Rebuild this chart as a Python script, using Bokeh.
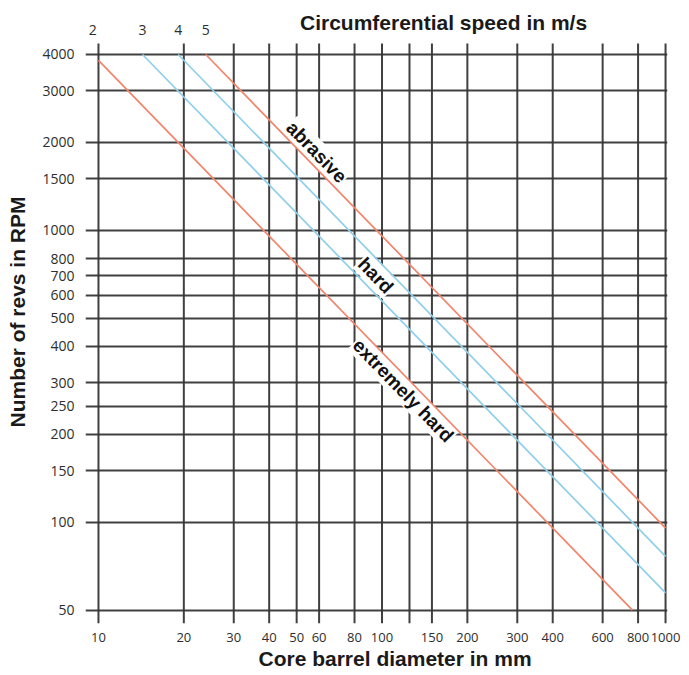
import math
from bokeh.plotting import figure
from bokeh.models import FixedTicker, Range1d, ColumnDataSource, Title
from bokeh.core.properties import value
from bokeh.embed import file_html
from bokeh.resources import INLINE

# ---------------- data ----------------
X_TICKS = [10, 20, 30, 40, 50, 60, 80, 100, 125, 150, 200, 300, 400, 600, 800, 1000]
X_LABELS = ["10", "20", "30", "40", "50", "60", "80", "100", "", "150", "200",
            "300", "400", "600", "800", "1000"]
Y_TICKS = [50, 100, 150, 200, 250, 300, 400, 500, 600, 700, 800, 1000,
           1500, 2000, 3000, 4000]
Y_LABELS = ["50", "100", "150", "200", "250", "300", "400", "500", "600", "700",
            "800", "1000", "1500", "2000", "3000", "4000"]

# circumferential speeds (m/s) and the diameter where each line meets the top
SPEED_LABELS = ["2", "3", "4", "5"]
SPEED_TOP_D = [9.55, 14.3, 19.1, 23.9]

# straight speed lines (diameter mm, RPM) start / end points
LINE_D_START = [10, 14.3, 19.1, 23.9]
LINE_RPM_START = [3820, 4000, 4000, 4000]
LINE_D_END = [764, 1000, 1000, 1000]
LINE_RPM_END = [50, 57.3, 76.4, 95.5]
LINE_KIND = ["red", "blue", "blue", "red"]

# rock-type annotations along the lines
ROCK_TEXT = ["abrasive", "hard", "extremely hard"]
ROCK_D = [55, 95, 127]
ROCK_RPM = [1740, 700, 301]
ROCK_BASELINE = ["bottom", "middle", "top"]

# ---------------- styling / layout ----------------
RED = "#f3846a"
BLUE = "#8fcfec"
GRID = "#363636"
TICK_FONT = "Open Sans"
BOLD_FONT = "Liberation Sans"
X_START, X_END = 9.0, 1016
Y_START, Y_END = 45.0, 6123
GRID_TOP = 4362          # vertical grid lines stop a little above 4000
SPEED_LABEL_Y = 4833     # height of the speed numbers above the grid
TOP_TITLE_X, TOP_TITLE_Y = 164.8, 5149

p = figure(
    title=None,
    x_axis_type="log", y_axis_type="log",
    x_range=Range1d(X_START, X_END), y_range=Range1d(Y_START, Y_END),
    frame_width=582, frame_height=623,
    min_border_left=85, min_border_right=18, min_border_top=0, min_border_bottom=51,
    toolbar_location=None, output_backend="svg",
)
p.outline_line_color = None
p.background_fill_color = "white"
p.border_fill_color = "white"

# horizontal grid (built in), vertical grid as segments
p.xgrid.visible = False
p.ygrid.ticker = FixedTicker(ticks=Y_TICKS)
p.ygrid.grid_line_color = GRID
p.ygrid.grid_line_width = 2
p.ygrid.grid_line_alpha = 0.95

vsrc = ColumnDataSource(dict(x=X_TICKS, y0=[Y_START] * len(X_TICKS), y1=[GRID_TOP] * len(X_TICKS)))
p.segment(x0="x", y0="y0", x1="x", y1="y1", source=vsrc,
          line_color=GRID, line_width=2, line_alpha=0.95)

# bottom axis
bx = p.below[0]
bx.ticker = FixedTicker(ticks=X_TICKS)
bx.major_label_overrides = {t: l for t, l in zip(X_TICKS, X_LABELS)}
# left axis
ly = p.left[0]
ly.ticker = FixedTicker(ticks=Y_TICKS)
ly.major_label_overrides = {t: l for t, l in zip(Y_TICKS, Y_LABELS)}
ly.axis_label = "Number of revs in RPM"
ly.axis_label_standoff = 10
ly.axis_label_text_font = BOLD_FONT
ly.axis_label_text_font_style = "bold"
ly.axis_label_text_font_size = "21px"
ly.axis_label_text_color = "#1a1a1a"

for ax, standoff, size in ((bx, 9, "13px"), (ly, 11, "14px")):
    ax.axis_line_color = None
    ax.major_tick_line_color = None
    ax.minor_tick_line_color = None
    ax.major_tick_out = 0
    ax.major_tick_in = 0
    ax.major_label_standoff = standoff
    ax.major_label_text_font = TICK_FONT
    ax.major_label_text_font_size = size
    ax.major_label_text_color = "#2e2e2e"

# bottom title
p.add_layout(Title(text="Core barrel diameter in mm", align="left", offset=173, standoff=0,
                   text_font=BOLD_FONT, text_font_style="bold", text_font_size="21px",
                   text_color="#1a1a1a"), "below")

# top: speed numbers and title
p.text(x=SPEED_TOP_D, y=[SPEED_LABEL_Y] * len(SPEED_TOP_D), text=SPEED_LABELS,
       text_font=value(TICK_FONT), text_font_size="14px", text_color="#2e2e2e",
       text_align="center", text_baseline="middle")
p.text(x=[TOP_TITLE_X], y=[TOP_TITLE_Y], text=["Circumferential speed in m/s"],
       text_font=value(BOLD_FONT), text_font_style="bold", text_font_size="21px",
       text_color="#1a1a1a", text_align="center", text_baseline="middle")

# rock-type texts (white halo behind, drawn before the coloured lines)
ang = -math.atan(292 / 283.5)
for t, d, r, b in zip(ROCK_TEXT, ROCK_D, ROCK_RPM, ROCK_BASELINE):
    p.text(x=[d], y=[r], text=[t], angle=ang,
           text_font=value(BOLD_FONT), text_font_style="bold",
           text_font_size="19px", text_color="#111111",
           text_align="center", text_baseline=b,
           background_fill_color="white", padding=1)

# speed lines
src = ColumnDataSource(dict(
    x0=LINE_D_START, y0=LINE_RPM_START, x1=LINE_D_END, y1=LINE_RPM_END,
    color=[RED if k == "red" else BLUE for k in LINE_KIND],
))
p.segment(x0="x0", y0="y0", x1="x1", y1="y1", color="color", line_width=1.7, source=src)

open("out.html", "w").write(file_html(p, INLINE))
